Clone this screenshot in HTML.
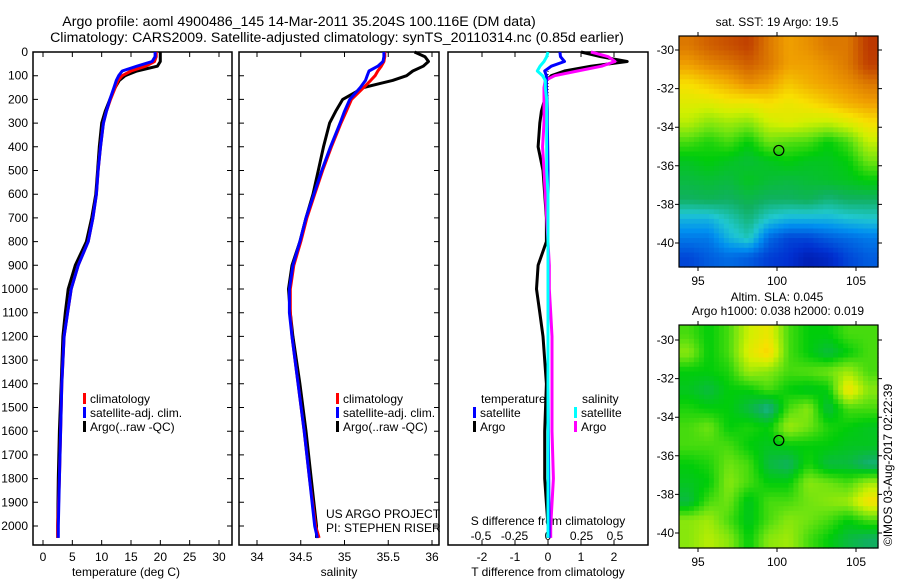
<!DOCTYPE html>
<html><head><meta charset="utf-8"><style>
body{margin:0;background:#fff;}
svg{display:block;font-family:"Liberation Sans",sans-serif;}
text{fill:#000;}
</style></head><body>
<svg id="s" width="900" height="580" xmlns="http://www.w3.org/2000/svg">
<text x="299" y="26" font-size="14.2" text-anchor="middle">Argo profile: aoml 4900486_145 14-Mar-2011 35.204S 100.116E (DM data)</text>
<text x="337" y="42" font-size="14.2" text-anchor="middle">Climatology: CARS2009. Satellite-adjusted climatology: synTS_20110314.nc (0.85d earlier)</text>
<text x="777" y="26" font-size="12" text-anchor="middle">sat. SST: 19 Argo: 19.5</text>
<text x="777" y="301" font-size="12" text-anchor="middle">Altim. SLA: 0.045</text>
<text x="778" y="315" font-size="12" text-anchor="middle">Argo h1000: 0.038 h2000: 0.019</text>
<text transform="translate(892,465) rotate(-90)" font-size="12" text-anchor="middle">©IMOS 03-Aug-2017 02:22:39</text>
<text x="126" y="576" font-size="12" text-anchor="middle">temperature (deg C)</text>
<text x="339" y="576" font-size="12" text-anchor="middle">salinity</text>
<text x="548" y="576" font-size="12" text-anchor="middle">T difference from climatology</text>
<text x="548" y="525" font-size="12" text-anchor="middle">S difference from climatology</text>
<text x="326" y="518" font-size="12">US ARGO PROJECT</text>
<text x="326" y="532" font-size="12">PI: STEPHEN RISER</text>
</svg>
<script>
// ---- data ----
const pres = [0,20,40,60,80,100,120,150,200,250,300,400,500,600,700,800,900,1000,1100,1200,1400,1600,1800,2000,2050];
const tClim = [19.3,19.3,19.0,17.5,15.0,13.5,12.8,12.3,11.5,10.8,10.3,9.8,9.4,9.1,8.5,7.7,6.0,4.8,4.2,3.6,3.2,3.0,2.8,2.5,2.5];
const tSat  = [19.1,19.1,18.6,16.0,13.5,12.9,12.5,12.1,11.4,10.8,10.3,9.8,9.4,9.1,8.5,7.7,6.0,4.8,4.2,3.6,3.2,3.0,2.8,2.6,2.6];
const tArgo = [20.0,20.0,20.0,19.5,16.0,14.0,13.0,12.3,11.4,10.6,10.0,9.6,9.3,9.0,8.3,7.4,5.5,4.3,3.8,3.4,3.1,2.8,2.6,2.5,2.5];
const sClim = [35.46,35.46,35.45,35.42,35.38,35.35,35.30,35.22,35.08,35.02,34.96,34.85,34.75,34.66,34.57,34.50,34.42,34.38,34.38,34.40,34.47,34.54,34.60,34.67,34.71];
const sSat  = [35.45,35.45,35.44,35.38,35.28,35.26,35.24,35.18,35.06,35.00,34.95,34.84,34.74,34.65,34.56,34.49,34.41,34.37,34.37,34.40,34.47,34.54,34.60,34.66,34.69];
const sArgo = [35.80,35.92,35.96,35.90,35.78,35.71,35.55,35.22,34.98,34.90,34.83,34.76,34.70,34.64,34.56,34.49,34.40,34.36,34.38,34.41,34.49,34.56,34.62,34.68,34.68];
const dTSat  = [0.36,0.38,0.5,0.1,-0.1,-0.05,-0.05,-0.05,-0.03,-0.02,-0.02,-0.01,0,0,0,0,0,0,0,0,0,0.01,0.02,0.03,0.03];
const dTArgo = [1.0,1.6,2.4,1.3,0.5,0.1,-0.05,-0.1,-0.1,-0.2,-0.25,-0.3,-0.15,-0.1,-0.05,-0.05,-0.3,-0.35,-0.25,-0.15,-0.05,-0.1,-0.1,0,0];
const dSSat  = [0,-0.01,-0.03,-0.06,-0.08,-0.04,-0.02,-0.02,-0.01,-0.01,-0.01,-0.01,-0.01,0,0,0,0,0,0,0,0,0,0,0,0];
const dSArgo = [0.32,0.45,0.5,0.4,0.22,0.05,-0.02,-0.03,-0.03,-0.03,-0.03,-0.04,-0.03,-0.02,-0.01,0,0.01,0.01,0.02,0.03,0.03,0.03,0.04,0.02,0.02];
const pTicks = [0,100,200,300,400,500,600,700,800,900,1000,1100,1200,1300,1400,1500,1600,1700,1800,1900,2000];
const tTicks = [0,5,10,15,20,25,30];
const sTicks = [34,34.5,35,35.5,36];
const dTTicks = [-2,-1,0,1,2];
const dSTicks = [-0.5,-0.25,0,0.25,0.5];
const lonTicks = [95,100,105];
const latTicks = [-30,-32,-34,-36,-38,-40];
const sst = [
[0.85,0.88,0.9,0.92,0.85,0.8,0.82,0.85,0.85,0.93],
[0.8,0.83,0.85,0.88,0.85,0.8,0.8,0.82,0.85,0.92],
[0.72,0.75,0.78,0.82,0.8,0.75,0.78,0.8,0.82,0.85],
[0.68,0.68,0.7,0.7,0.72,0.7,0.72,0.75,0.78,0.8],
[0.64,0.6,0.62,0.6,0.66,0.68,0.66,0.65,0.68,0.72],
[0.55,0.52,0.55,0.5,0.58,0.56,0.55,0.5,0.55,0.65],
[0.48,0.5,0.48,0.46,0.48,0.5,0.48,0.48,0.5,0.58],
[0.45,0.46,0.45,0.48,0.46,0.45,0.46,0.47,0.48,0.5],
[0.42,0.43,0.42,0.44,0.42,0.42,0.43,0.4,0.42,0.42],
[0.3,0.3,0.35,0.4,0.33,0.3,0.3,0.3,0.32,0.33],
[0.22,0.22,0.3,0.35,0.2,0.15,0.15,0.18,0.2,0.22],
[0.15,0.18,0.2,0.18,0.14,0.12,0.08,0.1,0.15,0.18]];
const sla = [
[0.55,0.5,0.55,0.66,0.7,0.55,0.5,0.5,0.55,0.55],
[0.6,0.5,0.55,0.68,0.74,0.55,0.5,0.45,0.5,0.55],
[0.5,0.5,0.52,0.62,0.6,0.55,0.56,0.58,0.62,0.55],
[0.48,0.45,0.5,0.5,0.55,0.5,0.48,0.5,0.72,0.6],
[0.52,0.5,0.5,0.45,0.38,0.55,0.6,0.45,0.55,0.55],
[0.55,0.58,0.5,0.52,0.5,0.62,0.58,0.52,0.5,0.48],
[0.55,0.55,0.55,0.5,0.48,0.5,0.5,0.5,0.48,0.48],
[0.5,0.52,0.58,0.55,0.45,0.42,0.52,0.45,0.45,0.4],
[0.48,0.5,0.6,0.55,0.5,0.5,0.6,0.58,0.55,0.62],
[0.45,0.55,0.58,0.48,0.55,0.55,0.58,0.6,0.62,0.72],
[0.6,0.62,0.55,0.48,0.55,0.6,0.58,0.55,0.5,0.55],
[0.6,0.64,0.6,0.5,0.6,0.62,0.55,0.5,0.45,0.42]];
const argoLon = 100.116, argoLat = -35.204;

// ---- helpers ----
const S = document.getElementById('s');
const NS = 'http://www.w3.org/2000/svg';
function mk(tag, at, parent){const e=document.createElementNS(NS,tag);for(const k in at)e.setAttribute(k,at[k]);(parent||S).appendChild(e);return e;}
function lin(d0,d1,r0,r1){return v=>r0+(v-d0)*(r1-r0)/(d1-d0);}
const yP = lin(0,2000,52,526);
const panels = [
 {x0:33,x1:232,sx:lin(0,30,43,219),ticks:tTicks,name:'temperature'},
 {x0:239,x1:439,sx:lin(34,36,257,432),ticks:sTicks,name:'salinity'},
 {x0:448,x1:648,sx:lin(-2,2,482,614),ticks:dTTicks,name:'difference'}];
const sxS = lin(-0.5,0.5,481,615);
const yTop=52,yBot=545;

panels.forEach((p,i)=>{
  const r=mk('rect',{x:p.x0,y:yTop,width:p.x1-p.x0,height:yBot-yTop,fill:'none',stroke:'#000','stroke-width':1.5});
  
  
  p.ticks.forEach(t=>{
    const x=p.sx(t);
    const l=mk('path',{d:`M${x} ${yBot}v-5M${x} ${yTop}v5`,stroke:'#000'});
    
    
    const tx=mk('text',{x:x,y:561,'font-size':12,'text-anchor':'middle'});
    tx.textContent=String(t);
    
    
  });
  if(i<2){
    pTicks.forEach(t=>{
      const y=yP(t);
      const l=mk('path',{d:`M${p.x0} ${y}h5M${p.x1} ${y}h-5`,stroke:'#000'});
      
      
    });
  }
});
pTicks.forEach(t=>{
  const tx=mk('text',{x:28,y:yP(t)+4,'font-size':12,'text-anchor':'end'});
  tx.textContent=String(t);
  
  
});
dSTicks.forEach(t=>{
  const tx=mk('text',{x:sxS(t),y:540,'font-size':12,'text-anchor':'middle'});
  tx.textContent=t===0?'0':String(t);
  
  
});
const z=mk('line',{x1:panels[2].sx(0),x2:panels[2].sx(0),y1:yP(80),y2:yP(220),stroke:'#000','stroke-dasharray':'1 2'});



function profile(vals,sx,color,name,w){
  const d=vals.map((v,i)=>(i?'L':'M')+sx(v).toFixed(1)+' '+yP(pres[i]).toFixed(1)).join('');
  const pa=mk('path',{d:d,fill:'none',stroke:color,'stroke-width':w||3,'stroke-linejoin':'round'});
  
  
}
profile(tArgo,panels[0].sx,'#000','temperature-argo-line');
profile(tClim,panels[0].sx,'#f00','temperature-climatology-line');
profile(tSat,panels[0].sx,'#00f','temperature-satellite-line');
profile(sArgo,panels[1].sx,'#000','salinity-argo-line');
profile(sClim,panels[1].sx,'#f00','salinity-climatology-line');
profile(sSat,panels[1].sx,'#00f','salinity-satellite-line');
profile(dTArgo,panels[2].sx,'#000','t-diff-argo-line');
profile(dSArgo,sxS,'#f0f','s-diff-argo-line');
profile(dTSat,panels[2].sx,'#00f','t-diff-satellite-line');
profile(dSSat,sxS,'#0ff','s-diff-satellite-line');

function legend(x,y,color,label,name){
  const r=mk('rect',{x:x,y:y-10,width:3,height:11,fill:color});
  
  
  const t=mk('text',{x:x+7,y:y,'font-size':12});
  t.textContent=label;
  
  
}
legend(83,403,'#f00','climatology','legend-t-climatology');
legend(83,417,'#00f','satellite-adj. clim.','legend-t-satellite');
legend(83,431,'#000','Argo(..raw -QC)','legend-t-argo');
legend(336,403,'#f00','climatology','legend-s-climatology');
legend(336,417,'#00f','satellite-adj. clim.','legend-s-satellite');
legend(336,431,'#000','Argo(..raw -QC)','legend-s-argo');
const lt=mk('text',{x:481,y:403,'font-size':12});lt.textContent='temperature';


const ls=mk('text',{x:582,y:403,'font-size':12});ls.textContent='salinity';


legend(473,417,'#00f','satellite','legend-diff-t-satellite');
legend(473,431,'#000','Argo','legend-diff-t-argo');
legend(574,417,'#0ff','satellite','legend-diff-s-satellite');
legend(574,431,'#f0f','Argo','legend-diff-s-argo');

// ---- maps ----
const stops=[[0,[0,0,127]],[0.12,[0,48,208]],[0.25,[0,144,240]],[0.33,[32,200,208]],[0.42,[16,176,96]],[0.5,[0,205,10]],[0.58,[112,228,16]],[0.66,[208,240,0]],[0.72,[248,224,0]],[0.8,[240,160,0]],[0.88,[208,96,0]],[1,[160,0,0]]];
function cmap(v){
  for(let i=1;i<stops.length;i++){if(v<=stops[i][0]){const a=stops[i-1],b=stops[i],f=(v-a[0])/(b[0]-a[0]);
    return 'rgb('+a[1].map((c,k)=>Math.round(c+(b[1][k]-c)*f)).join(',')+')';}}
  return 'rgb(160,0,0)';
}
function sample(grid,fy,fx){
  const R=grid.length,C=grid[0].length;
  fy=Math.max(0,Math.min(R-1,fy));fx=Math.max(0,Math.min(C-1,fx));
  const r0=Math.floor(fy),c0=Math.floor(fx),r1=Math.min(R-1,r0+1),c1=Math.min(C-1,c0+1),a=fy-r0,b=fx-c0;
  return grid[r0][c0]*(1-a)*(1-b)+grid[r0][c1]*(1-a)*b+grid[r1][c0]*a*(1-b)+grid[r1][c1]*a*b;
}
function map(grid,top,h,lat30,lat40,name){
  const x0=679,x1=878,y1=top+h;
  const lonX=lin(95,105,698,856), latY=lin(-30,-40,lat30,lat40);
  const rows=grid.length, cols=grid[0].length, up=4;
  const cw=(x1-x0)/(cols*up), ch=h/(rows*up);
  for(let r=0;r<rows*up;r++)for(let c=0;c<cols*up;c++){
    const v=sample(grid,(r+0.5)/up-0.5,(c+0.5)/up-0.5);
    const cell=mk('rect',{x:(x0+c*cw).toFixed(1),y:(top+r*ch).toFixed(1),width:(cw+0.6).toFixed(1),height:(ch+0.6).toFixed(1),fill:cmap(v)});
    
    
  }
  const fr=mk('rect',{x:x0,y:top,width:x1-x0,height:h,fill:'none',stroke:'#000','stroke-width':1.2});
  
  
  lonTicks.forEach(t=>{
    const x=lonX(t);
    const l=mk('path',{d:`M${x} ${top}v-4M${x} ${y1}v4`,stroke:'#000'});
    
    
    const tx=mk('text',{x:x,y:y1+18,'font-size':12,'text-anchor':'middle'});
    tx.textContent=String(t);
    
    
  });
  latTicks.forEach(t=>{
    const y=latY(t);
    const l=mk('path',{d:`M${x0} ${y}h-4M${x1} ${y}h4`,stroke:'#000'});
    
    
    const tx=mk('text',{x:674,y:y+4,'font-size':12,'text-anchor':'end'});
    tx.textContent=String(t);
    
    
  });
  const c=mk('circle',{cx:lonX(argoLon),cy:latY(argoLat),r:5,fill:'none',stroke:'#000','stroke-width':1.2});
  
  
}
map(sst,36,231,50,243,'sst-map');
map(sla,325,223,340,533,'sla-map');
</script>
</body></html>
